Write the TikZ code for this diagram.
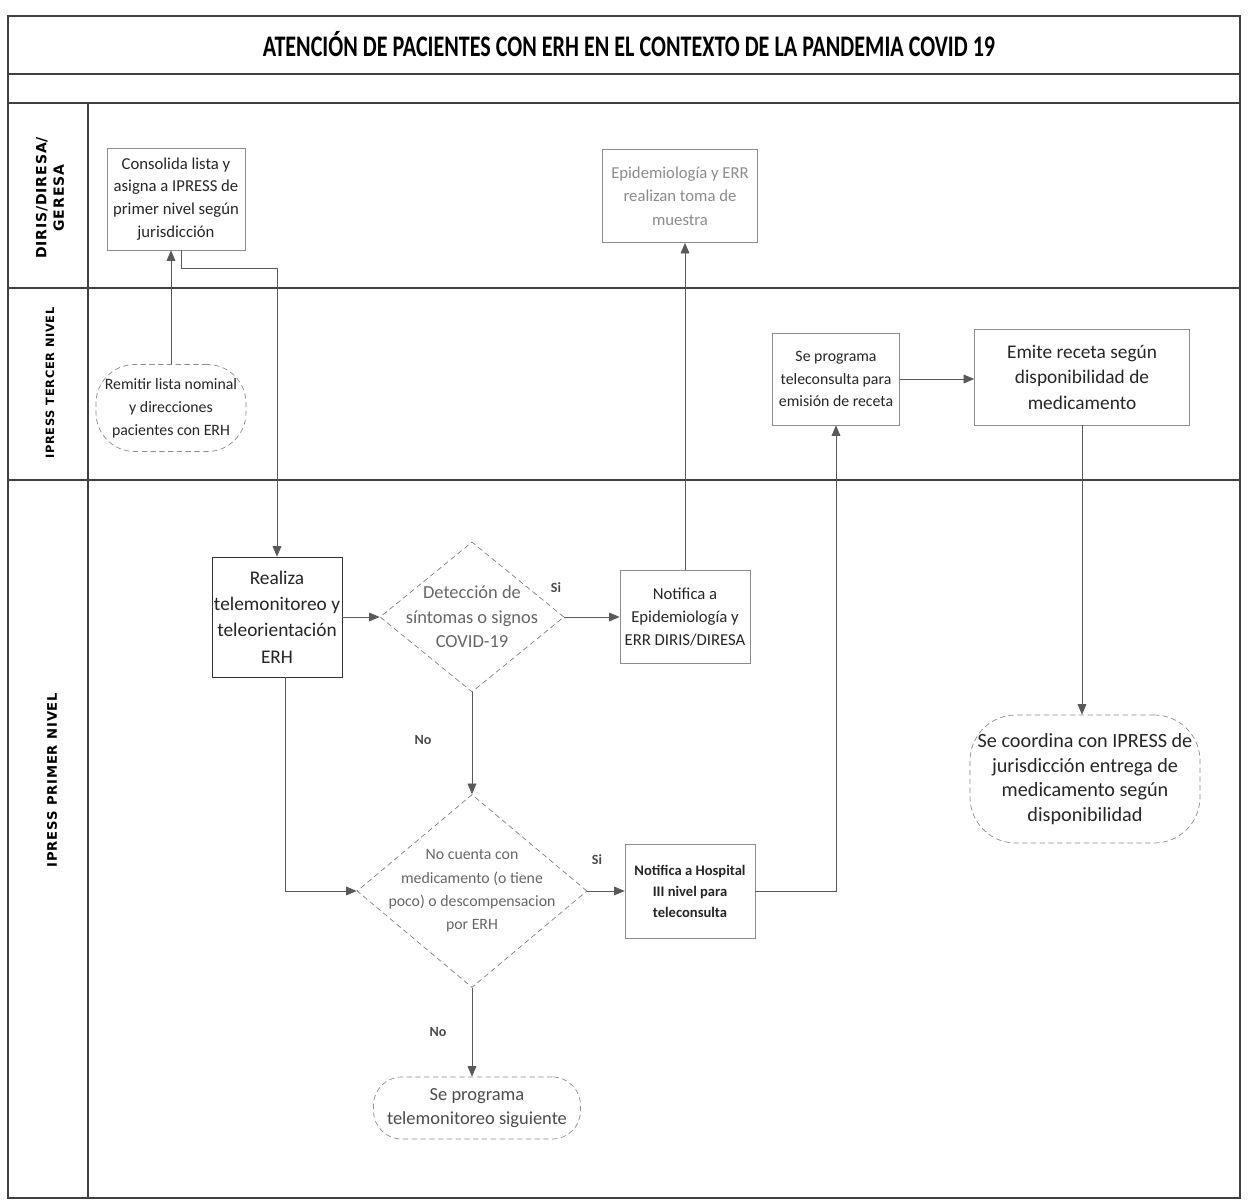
\documentclass[tikz,border=0pt]{standalone}
\usepackage{fontspec}
\setmainfont{Carlito}
\newfontfamily\lanefont[LetterSpace=6]{DejaVu Sans}
\usepackage{graphicx}
\usepackage{tikz}
\usetikzlibrary{shapes.geometric,arrows.meta}

\begin{document}
\begin{tikzpicture}[x=0.02cm,y=-0.02cm]
\tikzset{box/.style={draw=black!45, fill=white, align=center, inner sep=1pt, text=black!85},
  term/.style={box, rounded corners=16pt, densely dashed},
  dec/.style={diamond, draw=black!50, densely dashed, align=center, inner sep=-12pt, text=black!60},
  lane/.style={rotate=90, align=center, font=\lanefont\bfseries\fontsize{7}{9}\selectfont},
  lbl/.style={font=\bfseries\fontsize{8}{9}\selectfont, text=black!70},
  arr/.style={draw=black!65, -{Triangle[length=6pt,width=5pt]}},
  frame/.style={draw=black!75, line width=0.9pt}};
\useasboundingbox (0,0) rectangle (1248,1204);
% pool and lanes
\draw[frame] (8,16) rectangle (1240,1198);
\draw[frame] (8,74) -- (1240,74);
\draw[frame] (8,103) -- (1240,103);
\draw[frame] (8,288) -- (1240,288);
\draw[frame] (8,480) -- (1240,480);
\draw[frame] (88,103) -- (88,1198);
\node [font=\bfseries\fontsize{17}{19}\selectfont] (title) at (629,44) {\scalebox{0.74}[1]{ATENCIÓN DE PACIENTES CON ERH EN EL CONTEXTO DE LA PANDEMIA COVID 19}};
\node [lane, font=\lanefont\bfseries\fontsize{8}{10}\selectfont] (lanediris) at (50,198) {DIRIS/DIRESA/\\GERESA};
\node [lane, font=\lanefont\bfseries\fontsize{6.5}{9}\selectfont] (laneter) at (50,383) {IPRESS TERCER NIVEL};
\node [lane, font=\lanefont\bfseries\fontsize{7.5}{9}\selectfont] (laneprim) at (52,780) {IPRESS PRIMER NIVEL};
% DIRIS/DIRESA/GERESA
\node [box, minimum width=2.76cm, minimum height=2.04cm, font=\fontsize{9.5}{13}\selectfont] (consolida) at (176,199) {Consolida lista y\\asigna a IPRESS de\\primer nivel según\\jurisdicción};
\node [box, minimum width=3.1cm, minimum height=1.86cm, text=black!45, font=\fontsize{9.5}{13.5}\selectfont] (epi) at (680,196) {Epidemiología y ERR\\realizan toma de\\muestra};
% IPRESS tercer nivel
\node [term, rounded corners=22pt, minimum width=3cm, minimum height=1.74cm, font=\fontsize{9}{13}\selectfont] (remitir) at (171,408) {Remitir lista nominal\\y direcciones\\pacientes con ERH};
\node [box, minimum width=2.54cm, minimum height=1.84cm, font=\fontsize{9}{13}\selectfont] (telecons) at (836,379) {Se programa\\teleconsulta para\\emisión de receta};
\node [box, minimum width=4.3cm, minimum height=1.92cm, font=\fontsize{11}{14.5}\selectfont] (emite) at (1082,377) {Emite receta según\\disponibilidad de\\medicamento};
% IPRESS primer nivel
\node [box, draw=black!80, minimum width=2.6cm, minimum height=2.4cm, font=\fontsize{11}{15}\selectfont] (realiza) at (277,617) {Realiza\\telemonitoreo y\\teleorientación\\ERH};
\node [dec, minimum width=3.68cm, minimum height=3cm, font=\fontsize{10.5}{14}\selectfont] (dcovid) at (472,617) {Detección de\\síntomas o signos\\COVID-19};
\node [box, minimum width=2.6cm, minimum height=1.86cm, font=\fontsize{9.5}{13}\selectfont] (notepi) at (685,617) {Notifica a\\Epidemiología y\\ERR DIRIS/DIRESA};
\node [dec, minimum width=4.6cm, minimum height=3.86cm, font=\fontsize{9}{13.3}\selectfont] (dmed) at (472,891) {No cuenta con\\medicamento (o tiene\\poco) o descompensacion\\por ERH};
\node [box, minimum width=2.6cm, minimum height=1.88cm, font=\bfseries\fontsize{8.3}{12}\selectfont] (nothosp) at (690,891) {Notifica a Hospital\\III nivel para\\teleconsulta};
\node [term, minimum width=4.14cm, minimum height=1.24cm, text=black!70, font=\fontsize{10.5}{14}\selectfont] (telemon) at (477,1108) {Se programa\\telemonitoreo siguiente};
\node [term, rounded corners=26pt, minimum width=4.6cm, minimum height=2.56cm, font=\fontsize{11.5}{14}\selectfont] (coordina) at (1085,779) {Se coordina con IPRESS de\\jurisdicción entrega de\\medicamento según\\disponibilidad};
% decision labels
\node [lbl] (si1) at (556,588) {Si};
\node [lbl] (no1) at (423,740) {No};
\node [lbl] (si2) at (597,860) {Si};
\node [lbl] (no2) at (438,1032) {No};
% connectors
\draw[arr] (remitir.north) -- (remitir.north |- consolida.south);
\draw[arr] ([xshift=0.1cm]consolida.south) -- ++(0,18) -| (realiza.north);
\draw[arr] (realiza.east) -- (dcovid.west);
\draw[arr] (dcovid.east) -- (notepi.west);
\draw[arr] (notepi.north) -- (notepi.north |- epi.south);
\draw[arr] (dcovid.south) -- (dmed.north);
\draw[arr] ([xshift=0.16cm]realiza.south) |- (dmed.west);
\draw[arr] (dmed.east) -- (nothosp.west);
\draw[arr] (nothosp.east) -| (telecons.south);
\draw[arr] (telecons.east) -- (telecons.east -| emite.west);
\draw[arr] (emite.south) -- (emite.south |- coordina.north);
\draw[arr] (dmed.south) -- (dmed.south |- telemon.north);
\end{tikzpicture}
\end{document}
